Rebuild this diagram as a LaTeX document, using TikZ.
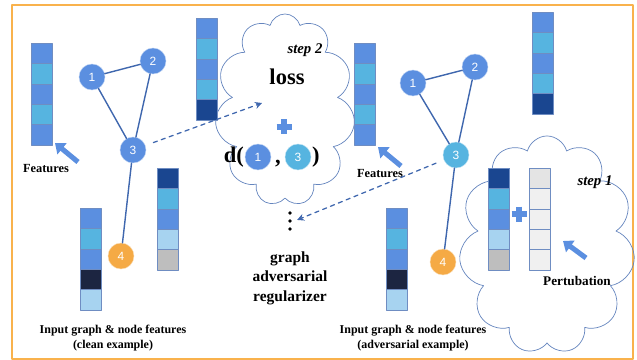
\documentclass[tikz,border=0pt]{standalone}
\usepackage{fontspec}
\setmainfont{Liberation Serif}
\setsansfont{Liberation Sans}
\usepackage{xcolor}
\usepackage{tikz}
\usetikzlibrary{shapes.geometric, shapes.symbols, arrows, arrows.meta}
\definecolor{featblue}{HTML}{5B8FE0}
\definecolor{featcyan}{HTML}{56B4E0}
\definecolor{featnavy}{HTML}{1A4690}
\definecolor{featdark}{HTML}{1C2541}
\definecolor{featlight}{HTML}{A7D3F0}
\definecolor{featgray}{HTML}{BEBEBE}
\definecolor{pertgray}{HTML}{F0F0F0}
\definecolor{perttop}{HTML}{E4E4E4}
\definecolor{edgeblue}{HTML}{3F67AE}
\definecolor{nodeorange}{HTML}{F5AA45}
\definecolor{frameorange}{HTML}{F9B24C}
\tikzstyle{cell} = [draw=edgeblue!75, line width=0.4pt, minimum width=0.525cm, minimum height=0.51cm, inner sep=0pt]
\tikzstyle{gnode} = [circle, draw=white!60!featblue, line width=0.3pt, minimum size=0.65cm, inner sep=0pt, text=white, font=\sffamily\fontsize{8.5}{10}\selectfont]
\tikzstyle{edge} = [draw=edgeblue, line width=1pt]
\tikzstyle{dasharrow} = [edgeblue, line width=0.9pt, dashed, -{Stealth[length=5pt,width=5pt]}]
\tikzstyle{blockarrow} = [featblue, line width=3.6pt, line cap=butt, -{Triangle[length=6.5pt,width=10pt]}]
\tikzstyle{puff} = [cloud, draw=edgeblue!80, line width=0.5pt, cloud puffs=11, inner sep=0pt]
\tikzstyle{lbl} = [font=\bfseries\fontsize{8.5}{10.6}\selectfont, align=center, inner sep=0pt]
\tikzstyle{feat} = [font=\bfseries\fontsize{8.8}{10}\selectfont, inner sep=0pt]
\newcommand{\featcol}[4]{%
  \foreach \c [count=\i from 0] in {#4}
    \node [cell, fill=\c] (#1-\i) at (#2, #3+\i*20.4) {};
}
\newcommand{\plusmark}[2]{%
  \draw [featblue, line width=4pt, line cap=butt] (#1-7.5,#2) -- (#1+7.5,#2) (#1,#2-7.5) -- (#1,#2+7.5);
}

\begin{document}
\begin{tikzpicture}[line cap=round,line join=round,>=stealth,x=0.025cm,y=-0.025cm]
    \useasboundingbox (0,0) rectangle (637,360);
    \draw [frameorange, line width=1pt] (12,5) rectangle (633,359);
    % clouds
    \node [puff, aspect=0.73, minimum width=3.5cm, minimum height=4.8cm] (lossCloud) at (285,110) {};
    \node [puff, aspect=0.8, minimum width=4.4cm, minimum height=5.45cm] (pertCloud) at (547,245) {};
    % feature columns
    \featcol{featL}{41.5}{53.2}{featblue,featcyan,featblue,featcyan,featblue}
    \featcol{topL}{206.5}{28.2}{featblue,featcyan,featblue,featcyan,featnavy}
    \featcol{midL}{167.5}{178.2}{featnavy,featcyan,featblue,featlight,featgray}
    \featcol{inL}{90.5}{218.2}{featblue,featcyan,featblue,featdark,featlight}
    \featcol{featR}{364.5}{53.2}{featblue,featcyan,featblue,featcyan,featblue}
    \featcol{topR}{542.5}{22.2}{featblue,featcyan,featblue,featcyan,featnavy}
    \featcol{inR}{396.5}{218.2}{featblue,featcyan,featblue,featdark,featlight}
    \featcol{midR}{499}{178.2}{featnavy,featcyan,featblue,featlight,featgray}
    \featcol{pert}{539.5}{178.2}{perttop,pertgray,pertgray,pertgray,pertgray}
    % clean graph
    \node [gnode, fill=featblue] (l1) at (92,77) {1};
    \node [gnode, fill=featblue] (l2) at (153,61) {2};
    \node [gnode, fill=featblue] (l3) at (133,150) {3};
    \node [gnode, fill=nodeorange, draw=white!60!nodeorange] (l4) at (121,256) {4};
    \draw [edge] (l1) -- (l2);
    \draw [edge] (l1) -- (l3);
    \draw [edge] (l2) -- (l3);
    \draw [edge] (l3) -- (l4);
    % adversarial graph
    \node [gnode, fill=featblue] (r1) at (413,83) {1};
    \node [gnode, fill=featblue] (r2) at (475,67) {2};
    \node [gnode, fill=featcyan, draw=white!60!featcyan] (r3) at (456,155) {3};
    \node [gnode, fill=nodeorange, draw=white!60!nodeorange] (r4) at (443,262) {4};
    \draw [edge] (r1) -- (r2);
    \draw [edge] (r1) -- (r3);
    \draw [edge] (r2) -- (r3);
    \draw [edge] (r3) -- (r4);
    % loss cloud
    \node [font=\bfseries\itshape\fontsize{10.5}{12}\selectfont, inner sep=0pt] (step2) at (305,50) {step 2};
    \node [font=\bfseries\fontsize{16}{18}\selectfont, inner sep=0pt] (loss) at (287,77) {loss};
    \plusmark{284}{127}
    \node [gnode, fill=featblue] (d1) at (258,157) {1};
    \node [gnode, fill=featcyan, draw=white!60!featcyan] (d3) at (298,157) {3};
    \node [font=\bfseries\fontsize{16}{18}\selectfont, inner sep=0.5pt, anchor=east] (dOpen) at (d1.west) {d(};
    \node [font=\bfseries\fontsize{16}{18}\selectfont, inner sep=0pt, anchor=base] (dComma) at (278,163) {,};
    \node [font=\bfseries\fontsize{16}{18}\selectfont, inner sep=0.5pt, anchor=west] (dClose) at (d3.east) {)};
    % regularizer
    \node [minimum width=6pt, minimum height=20pt, inner sep=0pt] (dots) at (290,221) {};
    \foreach \y in {213,221,229}
        \fill [black] (290,\y) circle (1.4pt);
    \node [font=\bfseries\fontsize{11}{13.8}\selectfont, align=center, inner sep=0pt] (regText) at (290,278) {graph\\adversarial\\regularizer};
    % perturbation cloud
    \plusmark{519}{214}
    \node [font=\bfseries\itshape\fontsize{10.5}{12}\selectfont, inner sep=0pt] (step1) at (595,182) {step 1};
    \node [font=\bfseries\fontsize{9.4}{11}\selectfont, inner sep=0pt] (pertText) at (577,281) {Pertubation};
    % labels
    \node [feat] (featTextL) at (46,169) {Features};
    \node [feat] (featTextR) at (380,174) {Features};
    \node [lbl] (cleanText) at (113,338) {Input graph \& node features\\(clean example)};
    \node [lbl] (advText) at (413,338) {Input graph \& node features\\(adversarial example)};
    % arrows
    \coordinate (tailL) at (78,162);
    \coordinate (headL) at (55,143);
    \coordinate (tailR) at (401,166);
    \coordinate (headR) at (378,147);
    \coordinate (tailP) at (586,258);
    \coordinate (headP) at (563,241);
    \coordinate (lossIn) at (262,103);
    \draw [blockarrow] (tailL) -- (headL);
    \draw [blockarrow] (tailR) -- (headR);
    \draw [blockarrow] (tailP) -- (headP);
    \draw [dasharrow, shorten <=6pt] (l3) -- (lossIn);
    \draw [dasharrow, shorten <=6pt, shorten >=2pt] (r3) -- (dots.east);
\end{tikzpicture}
\end{document}
